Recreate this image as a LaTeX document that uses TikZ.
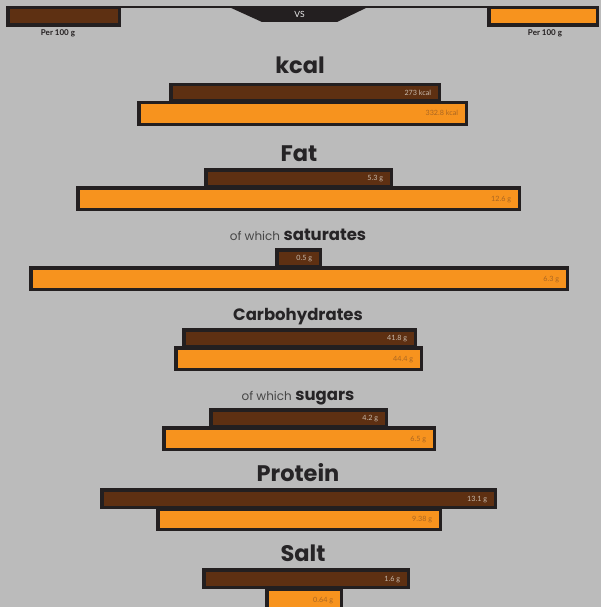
\documentclass[tikz,border=0pt]{standalone}
\usepackage{fontspec}
\setmainfont{Lato}
\newfontfamily\titlefont{Poppins}
\definecolor{bg}{RGB}{187,187,187}
\definecolor{brownfill}{RGB}{94,48,18}
\definecolor{orangefill}{RGB}{247,147,30}
\definecolor{edge}{RGB}{35,31,32}
\definecolor{browntxt}{RGB}{200,186,172}
\definecolor{orangetxt}{RGB}{170,102,34}
\definecolor{titletxt}{RGB}{38,36,38}
\definecolor{ofwhich}{RGB}{70,70,70}
\tikzset{
  barbase/.style={draw=edge, line width=3.5pt, inner sep=0pt, outer sep=0pt, rectangle},
  brownbar/.style={barbase, fill=brownfill},
  orangebar/.style={barbase, fill=orangefill},
  valtext/.style={inner sep=0pt, text height=5pt, text depth=0pt, anchor=east, font=\fontsize{7.2}{8}\selectfont},
  brownbartext/.style={valtext, text=browntxt},
  orangebartext/.style={valtext, text=orangetxt},
  title/.style={font=\titlefont\bfseries\fontsize{22.5}{24}\selectfont, text=titletxt, anchor=base, inner sep=0pt},
  subtitle/.style={font=\titlefont\bfseries\fontsize{16.5}{18}\selectfont, text=titletxt, anchor=base, inner sep=0pt},
  hdrlab/.style={font=\bfseries\fontsize{8}{9}\selectfont, text=edge, anchor=base, inner sep=0pt},
}
\newcommand{\ofw}{{\mdseries\fontsize{12}{12}\selectfont\color{ofwhich}of which} }
% name, style, x1, x2, ytop, ybottom, text
\newcommand{\nbar}[7]{%
  \node[#2, minimum width={(#4)-(#3)-3.5}, minimum height={(#6)-(#5)-3.5}] (#1) at ({(#3+#4)/2},{(#5+#6)/2}) {};
  \node[#2text] (#1v) at ([xshift=-8pt]#1.east) {#7};
}
\begin{document}
\begin{tikzpicture}[x=1pt,y=-1pt]
\useasboundingbox (0,0) rectangle (601,607);
\clip (0,0) rectangle (601,607);
\fill[bg] (0,0) rectangle (601,607);
% header
\node[brownbar, minimum width=111.5, minimum height=17.5] (hdrL) at (63.5,16.5) {};
\node[orangebar, minimum width=108.5, minimum height=17.5] (hdrR) at (543,16.5) {};
\draw[edge, line width=2pt] ([yshift=0.75pt]hdrL.north east) -- ([yshift=0.75pt]hdrR.north west);
\fill[edge] (229,7) -- (262,22) -- (337,22) -- (368,7) -- cycle;
\node[inner sep=0pt, text=white!85!gray, font=\fontsize{8.5}{9}\selectfont] (vs) at (299.5,14.5) {VS};
\node[hdrlab] (hdrLlab) at (58,36) {Per 100 g};
\node[hdrlab] (hdrRlab) at (545,36) {Per 100 g};
% kcal
\node[title] (tkcal) at (300,74) {kcal};
\nbar{kcalA}{brownbar}{169}{441}{83}{103}{273 kcal}
\nbar{kcalB}{orangebar}{137}{468}{101}{126}{332.8 kcal}
% fat
\node[title] (tfat) at (299,161) {Fat};
\nbar{fatA}{brownbar}{204}{393}{168}{188}{5.3 g}
\nbar{fatB}{orangebar}{76}{521}{186}{211}{12.6 g}
% saturates
\node[subtitle] (tsat) at (298,240) {\ofw saturates};
\nbar{satA}{brownbar}{275}{322}{248}{268}{0.5 g}
\nbar{satB}{orangebar}{29}{569}{266}{291}{6.3 g}
% carbohydrates
\node[subtitle] (tcarb) at (298,320) {Carbohydrates};
\nbar{carbA}{brownbar}{182}{417}{328}{348}{41.8 g}
\nbar{carbB}{orangebar}{174}{423}{346}{371}{44.4 g}
% sugars
\node[subtitle] (tsug) at (298,400) {\ofw sugars};
\nbar{sugA}{brownbar}{209}{388}{408}{428}{4.2 g}
\nbar{sugB}{orangebar}{162}{436}{426}{451}{6.5 g}
% protein
\node[title] (tprot) at (298,481) {Protein};
\nbar{protA}{brownbar}{100}{497}{488}{509}{13.1 g}
\nbar{protB}{orangebar}{156}{442}{507}{531}{9.38 g}
% salt
\node[title] (tsalt) at (303,561) {Salt};
\nbar{saltA}{brownbar}{202}{410}{568}{589}{1.6 g}
\nbar{saltB}{orangebar}{265}{343}{587}{612}{0.64 g}
\end{tikzpicture}
\end{document}
